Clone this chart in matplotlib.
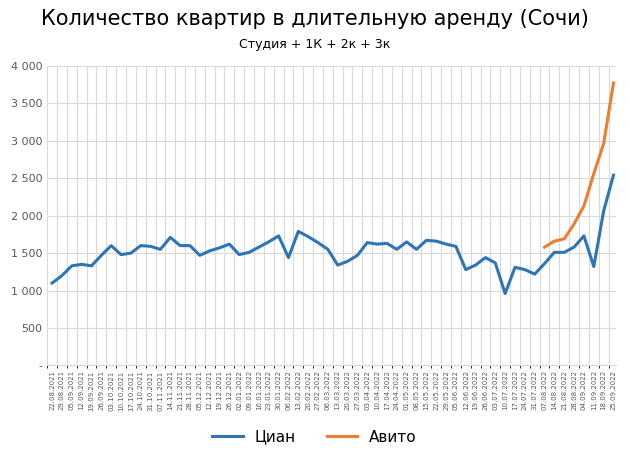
import numpy as np
import pandas as pd
import matplotlib
matplotlib.use("Agg")
import matplotlib.pyplot as plt

dates = pd.date_range("2021-08-22", "2022-09-25", freq="7D").strftime("%d.%m.%Y").tolist()

cian = [1100, 1200, 1330, 1350, 1330, 1470, 1600, 1480, 1500, 1600,
        1590, 1550, 1710, 1600, 1600, 1470, 1530, 1570, 1620, 1480,
        1510, 1580, 1650, 1730, 1440, 1790, 1720, 1640, 1550, 1340,
        1390, 1470, 1640, 1620, 1630, 1550, 1650, 1550, 1670, 1660,
        1620, 1590, 1280, 1340, 1440, 1370, 960, 1310, 1280, 1220,
        1360, 1510, 1510, 1580, 1730, 1320, 2060, 2540]
avito = [1580, 1660, 1690, 1890, 2130, 2560, 2960, 3770]

x = np.arange(len(dates))
x_avito = x[-len(avito):]

fig, ax = plt.subplots(figsize=(6.29, 4.54), dpi=100)
fig.subplots_adjust(left=0.075, right=0.98, top=0.855, bottom=0.195)

ax.plot(x, cian, color="#2E75B6", lw=2.2, label="Циан")
ax.plot(x_avito, avito, color="#ED7D31", lw=2.2, label="Авито")

ax.set_ylim(0, 4000)
ax.set_xlim(-0.3, len(dates) - 0.7)
yt = np.arange(0, 4001, 500)
ax.set_yticks(yt)
ax.set_yticklabels(["-"] + [f"{v:,}".replace(",", " ") for v in yt[1:]], fontsize=8)
ax.set_xticks(x)
ax.set_xticklabels(dates, rotation=90, fontsize=5, color="#595959")
ax.tick_params(axis="y", length=0, colors="#595959")
ax.tick_params(axis="x", length=0)
ax.set_xticks(x - 0.5, minor=True)
ax.grid(True, which="minor", axis="x", color="#d9d9d9", lw=0.8)
ax.grid(True, axis="y", color="#d9d9d9", lw=0.8)
for s in ["top", "right", "left"]:
    ax.spines[s].set_visible(False)
ax.spines["bottom"].set_color("#d9d9d9")

fig.text(0.5, 0.945, "Количество квартир в длительную аренду (Сочи)", ha="center", fontsize=15)
fig.text(0.5, 0.895, "Студия + 1К + 2к + 3к", ha="center", fontsize=9)
fig.legend(loc="lower center", ncol=2, frameon=False, fontsize=11,
           bbox_to_anchor=(0.5, -0.01), handlelength=2)

fig.savefig("out.png", dpi=100)
